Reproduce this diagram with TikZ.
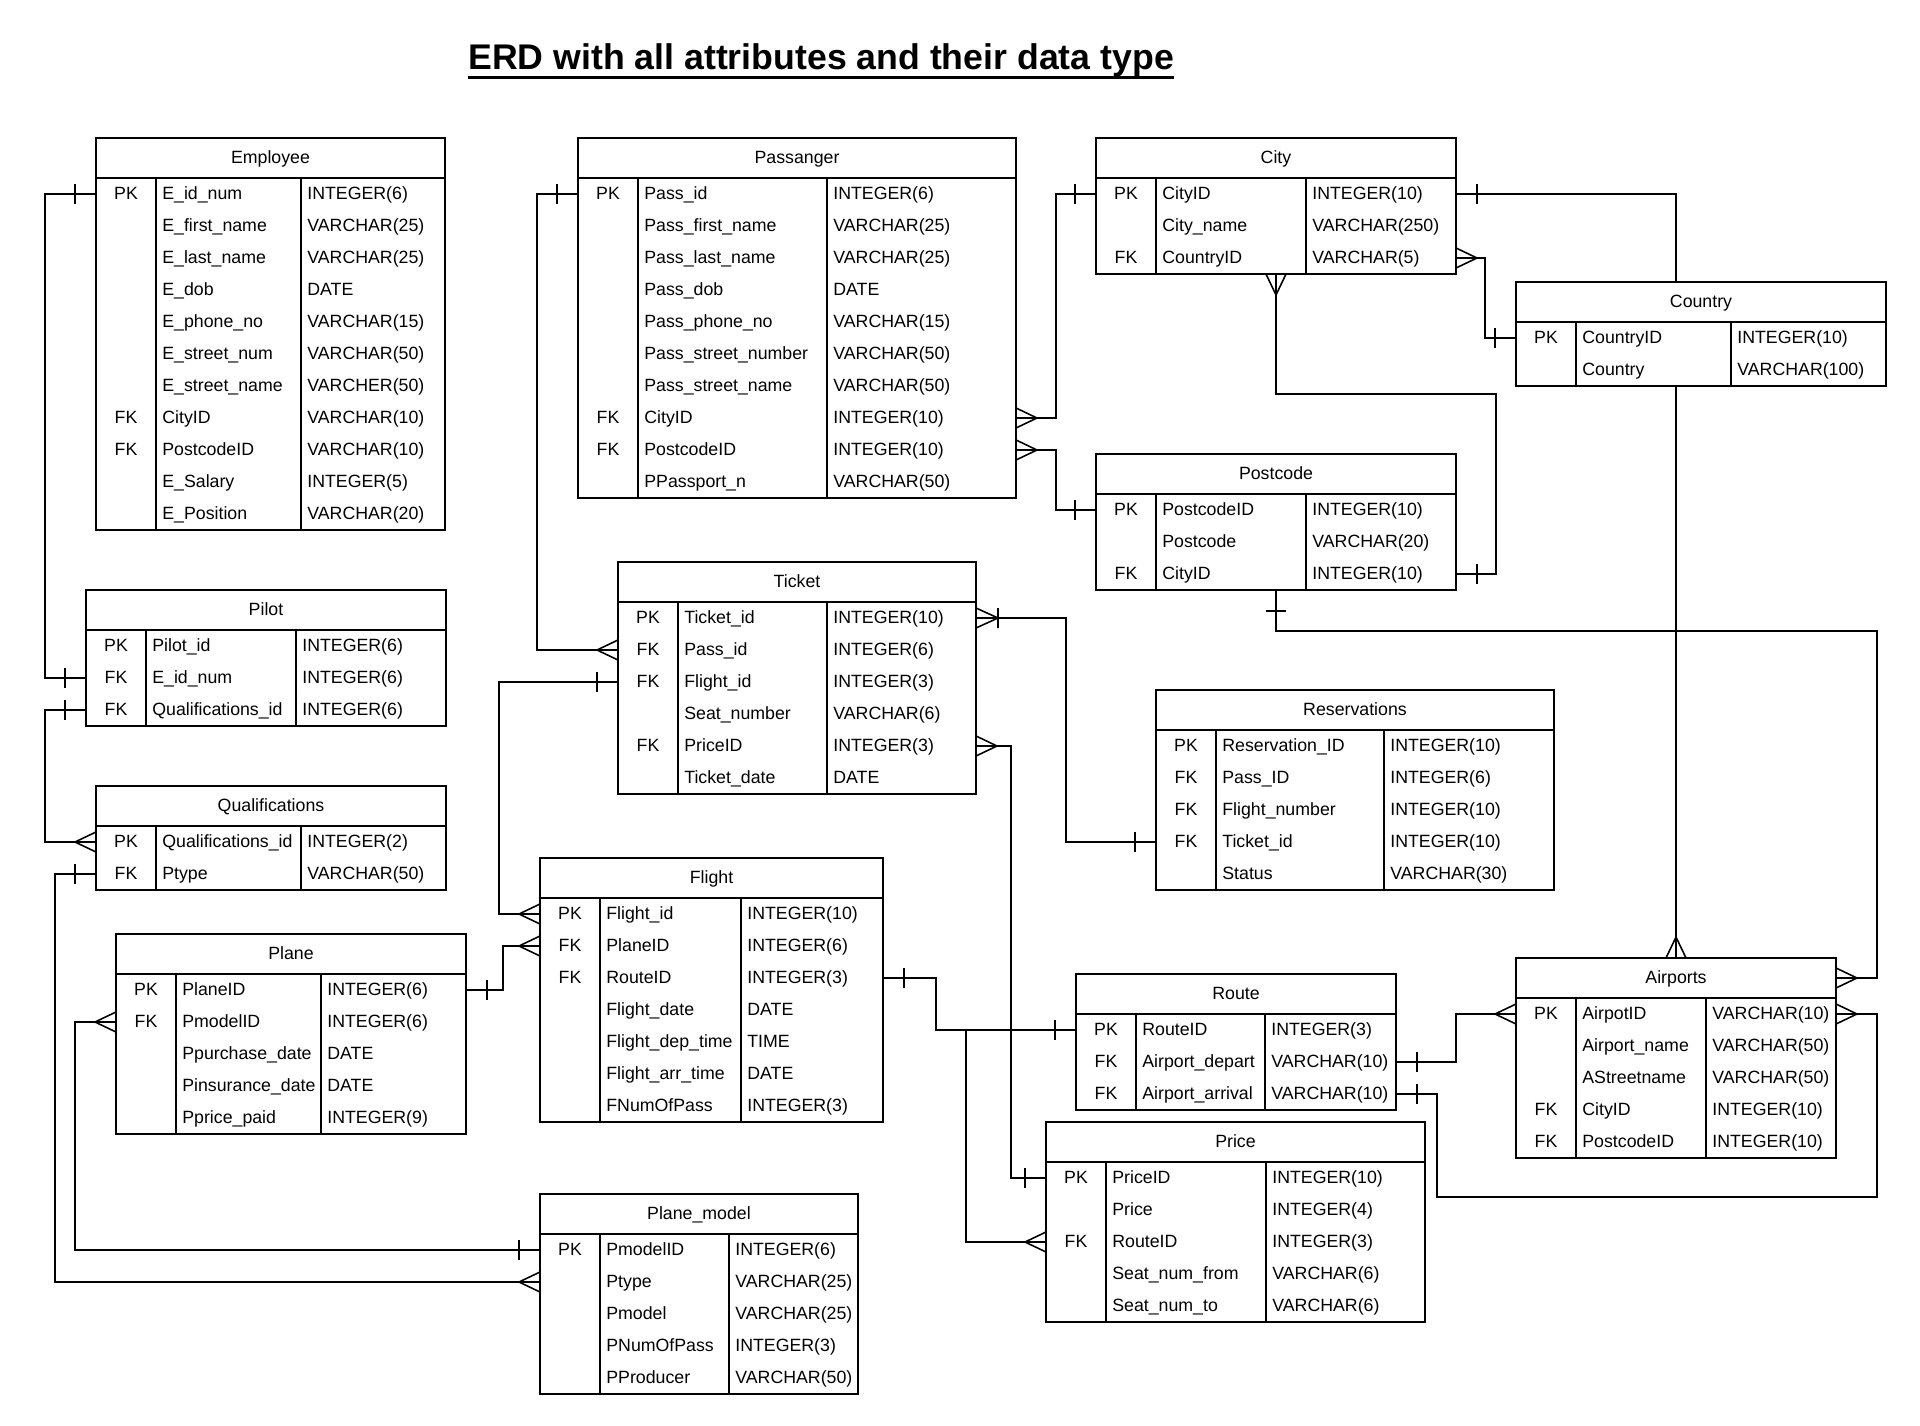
\documentclass[tikz,border=0pt]{standalone}
\usepackage{fontspec}
\setmainfont{Liberation Sans}
\usetikzlibrary{decorations.markings,backgrounds}

\newcommand{\erdtable}[8]{%
	\foreach \r [count=\i] in {#8} {\xdef\erdrows{\i}}
	\pgfmathsetmacro{\erdbottom}{#4+40+32*\erdrows}
	\draw[tabline,fill=white] (#3,#4) rectangle (#7,\erdbottom);
	\draw[tabline] (#3,#4+40) -- (#7,#4+40) (#5,#4+40) -- (#5,\erdbottom) (#6,#4+40) -- (#6,\erdbottom);
	\node[headtext] (#1) at ({(#3+#7)/2},#4+25.5) {#2};
	\coordinate (#1-n) at ({(#3+#7)/2},#4);
	\coordinate (#1-s) at ({(#3+#7)/2},\erdbottom);
	\coordinate (#1-h-e) at (#7,#4+20);
	\foreach \ekey/\efield/\etype [count=\i] in {#8} {
		\pgfmathsetmacro{\erdy}{#4+24+32*\i}
		\coordinate (#1-\i-w) at (#3,\erdy);
		\coordinate (#1-\i-e) at (#7,\erdy);
		\node[keytext] (#1-\i-k) at ({(#3+#5)/2},\erdy+5.5) {\ekey};
		\node[celltext] (#1-\i-f) at (#5+6,\erdy+5.5) {\efield};
		\node[celltext] (#1-\i-t) at (#6+6,\erdy+5.5) {\etype};
	}
}

\begin{document}
\begin{tikzpicture}[
	x=0.02cm, y=-0.02cm,
	tabline/.style={ line width=1.1pt },
	headtext/.style={ anchor=base, inner sep=0pt, font=\fontsize{10.1}{12}\selectfont },
	keytext/.style={ headtext },
	celltext/.style={ anchor=base west, inner sep=0pt, font=\fontsize{10.1}{12}\selectfont },
	link/.style={ line width=1.1pt },
	foot/.style={ line width=0.9pt },
	one start/.style={ postaction={decorate,decoration={markings,mark=at position 0 with {\draw[foot] (21,-10) -- (21,10);}}} },
	one end/.style={ postaction={decorate,decoration={markings,mark=at position 1 with {\draw[foot] (-21,-10) -- (-21,10);}}} },
	many start/.style={ postaction={decorate,decoration={markings,mark=at position 0 with {\draw[foot] (0,-10) -- (21,0) -- (0,10);}}} },
	many end/.style={ postaction={decorate,decoration={markings,mark=at position 1 with {\draw[foot] (0,-10) -- (-21,0) -- (0,10);}}} },
	onemany start/.style={ postaction={decorate,decoration={markings,mark=at position 0 with {\draw[foot] (0,-10) -- (22,0) -- (0,10) (22,-10) -- (22,10);}}} }
]

\useasboundingbox (0,0) rectangle (1920,1426);

\node[anchor=base west, inner sep=0pt, font=\fontsize{20.3}{24}\selectfont\bfseries] (title) at (468,70) {ERD with all attributes and their data type};
\draw[line width=1.6pt] ([yshift=-0.155cm]title.base west) -- ([yshift=-0.155cm]title.base east);

\erdtable{emp}{Employee}{96}{138}{156}{301}{445}{PK/E\_id\_num/INTEGER(6), /E\_first\_name/VARCHAR(25), /E\_last\_name/VARCHAR(25), /E\_dob/DATE, /E\_phone\_no/VARCHAR(15), /E\_street\_num/VARCHAR(50), /E\_street\_name/VARCHER(50), FK/CityID/VARCHAR(10), FK/PostcodeID/VARCHAR(10), /E\_Salary/INTEGER(5), /E\_Position/VARCHAR(20)}
\erdtable{pas}{Passanger}{578}{138}{638}{827}{1016}{PK/Pass\_id/INTEGER(6), /Pass\_first\_name/VARCHAR(25), /Pass\_last\_name/VARCHAR(25), /Pass\_dob/DATE, /Pass\_phone\_no/VARCHAR(15), /Pass\_street\_number/VARCHAR(50), /Pass\_street\_name/VARCHAR(50), FK/CityID/INTEGER(10), FK/PostcodeID/INTEGER(10), /PPassport\_n/VARCHAR(50)}
\erdtable{cit}{City}{1096}{138}{1156}{1306}{1456}{PK/CityID/INTEGER(10), /City\_name/VARCHAR(250), FK/CountryID/VARCHAR(5)}
\erdtable{cou}{Country}{1516}{282}{1576}{1731}{1886}{PK/CountryID/INTEGER(10), /Country/VARCHAR(100)}
\erdtable{pos}{Postcode}{1096}{454}{1156}{1306}{1456}{PK/PostcodeID/INTEGER(10), /Postcode/VARCHAR(20), FK/CityID/INTEGER(10)}
\erdtable{tic}{Ticket}{618}{562}{678}{827}{976}{PK/Ticket\_id/INTEGER(10), FK/Pass\_id/INTEGER(6), FK/Flight\_id/INTEGER(3), /Seat\_number/VARCHAR(6), FK/PriceID/INTEGER(3), /Ticket\_date/DATE}
\erdtable{res}{Reservations}{1156}{690}{1216}{1384}{1554}{PK/Reservation\_ID/INTEGER(10), FK/Pass\_ID/INTEGER(6), FK/Flight\_number/INTEGER(10), FK/Ticket\_id/INTEGER(10), /Status/VARCHAR(30)}
\erdtable{pil}{Pilot}{86}{590}{146}{296}{446}{PK/Pilot\_id/INTEGER(6), FK/E\_id\_num/INTEGER(6), FK/Qualifications\_id/INTEGER(6)}
\erdtable{qua}{Qualifications}{96}{786}{156}{301}{446}{PK/Qualifications\_id/INTEGER(2), FK/Ptype/VARCHAR(50)}
\erdtable{pla}{Plane}{116}{934}{176}{321}{466}{PK/PlaneID/INTEGER(6), FK/PmodelID/INTEGER(6), /Ppurchase\_date/DATE, /Pinsurance\_date/DATE, /Pprice\_paid/INTEGER(9)}
\erdtable{fli}{Flight}{540}{858}{600}{741}{883}{PK/Flight\_id/INTEGER(10), FK/PlaneID/INTEGER(6), FK/RouteID/INTEGER(3), /Flight\_date/DATE, /Flight\_dep\_time/TIME, /Flight\_arr\_time/DATE, /FNumOfPass/INTEGER(3)}
\erdtable{rou}{Route}{1076}{974}{1136}{1265}{1396}{PK/RouteID/INTEGER(3), FK/Airport\_depart/VARCHAR(10), FK/Airport\_arrival/VARCHAR(10)}
\erdtable{pri}{Price}{1046}{1122}{1106}{1266}{1425}{PK/PriceID/INTEGER(10), /Price/INTEGER(4), FK/RouteID/INTEGER(3), /Seat\_num\_from/VARCHAR(6), /Seat\_num\_to/VARCHAR(6)}
\erdtable{air}{Airports}{1516}{958}{1576}{1706}{1836}{PK/AirpotID/VARCHAR(10), /Airport\_name/VARCHAR(50), /AStreetname/VARCHAR(50), FK/CityID/INTEGER(10), FK/PostcodeID/INTEGER(10)}
\erdtable{pm}{Plane\_model}{540}{1194}{600}{729}{858}{PK/PmodelID/INTEGER(6), /Ptype/VARCHAR(25), /Pmodel/VARCHAR(25), /PNumOfPass/INTEGER(3), /PProducer/VARCHAR(50)}

\begin{pgfonlayer}{background}
\fill[white] (0,0) rectangle (1920,1426);
\draw[link,one start,one end] (emp-1-w) -- ++(-51,0) |- (pil-2-w);
\draw[link,one start,many end] (pil-3-w) -- ++(-41,0) |- (qua-1-w);
\draw[link,one start,many end] (qua-2-w) -- ++(-41,0) |- (pm-2-w);
\draw[link,many start,one end] (pla-2-w) -- ++(-41,0) |- (pm-1-w);
\draw[link,one start,many end] (pas-1-w) -- ++(-41,0) |- (tic-2-w);
\draw[link,one start,many end] (tic-3-w) -- ++(-119,0) |- (fli-1-w);
\draw[link,one start,many end] (pla-1-e) -- ++(37,0) |- (fli-2-w);
\draw[link,one start,one end] (fli-3-e) -- ++(53,0) |- (rou-1-w);
\draw[link,many start,one end] (pri-3-w) -- ++(-80,0) |- (rou-1-w);
\draw[link,many start,one end] (tic-5-e) -- ++(35,0) |- (pri-1-w);
\draw[link,onemany start,one end] (tic-1-e) -- ++(90,0) |- (res-4-w);
\draw[link,many start,one end] (pas-8-e) -- ++(40,0) |- (cit-1-w);
\draw[link,many start,one end] (pas-9-e) -- ++(40,0) |- (pos-1-w);
\draw[link,many start,one end] (cit-3-e) -- ++(29,0) |- (cou-1-w);
\draw[link,one start,many end] (cit-1-e) -| (air-n);
\draw[link,many start,one end] (cit-s) |- ++(220,120) |- (pos-3-e);
\draw[link,one start,many end] (pos-s) |- ++(601,41) |- (air-h-e);
\draw[link,one start,many end] (rou-2-e) -- ++(60,0) |- (air-1-w);
\draw[link,one start,many end] (rou-3-e) -- ++(41,0) |- ++(440,103) |- (air-1-e);
\end{pgfonlayer}

\end{tikzpicture}
\end{document}
